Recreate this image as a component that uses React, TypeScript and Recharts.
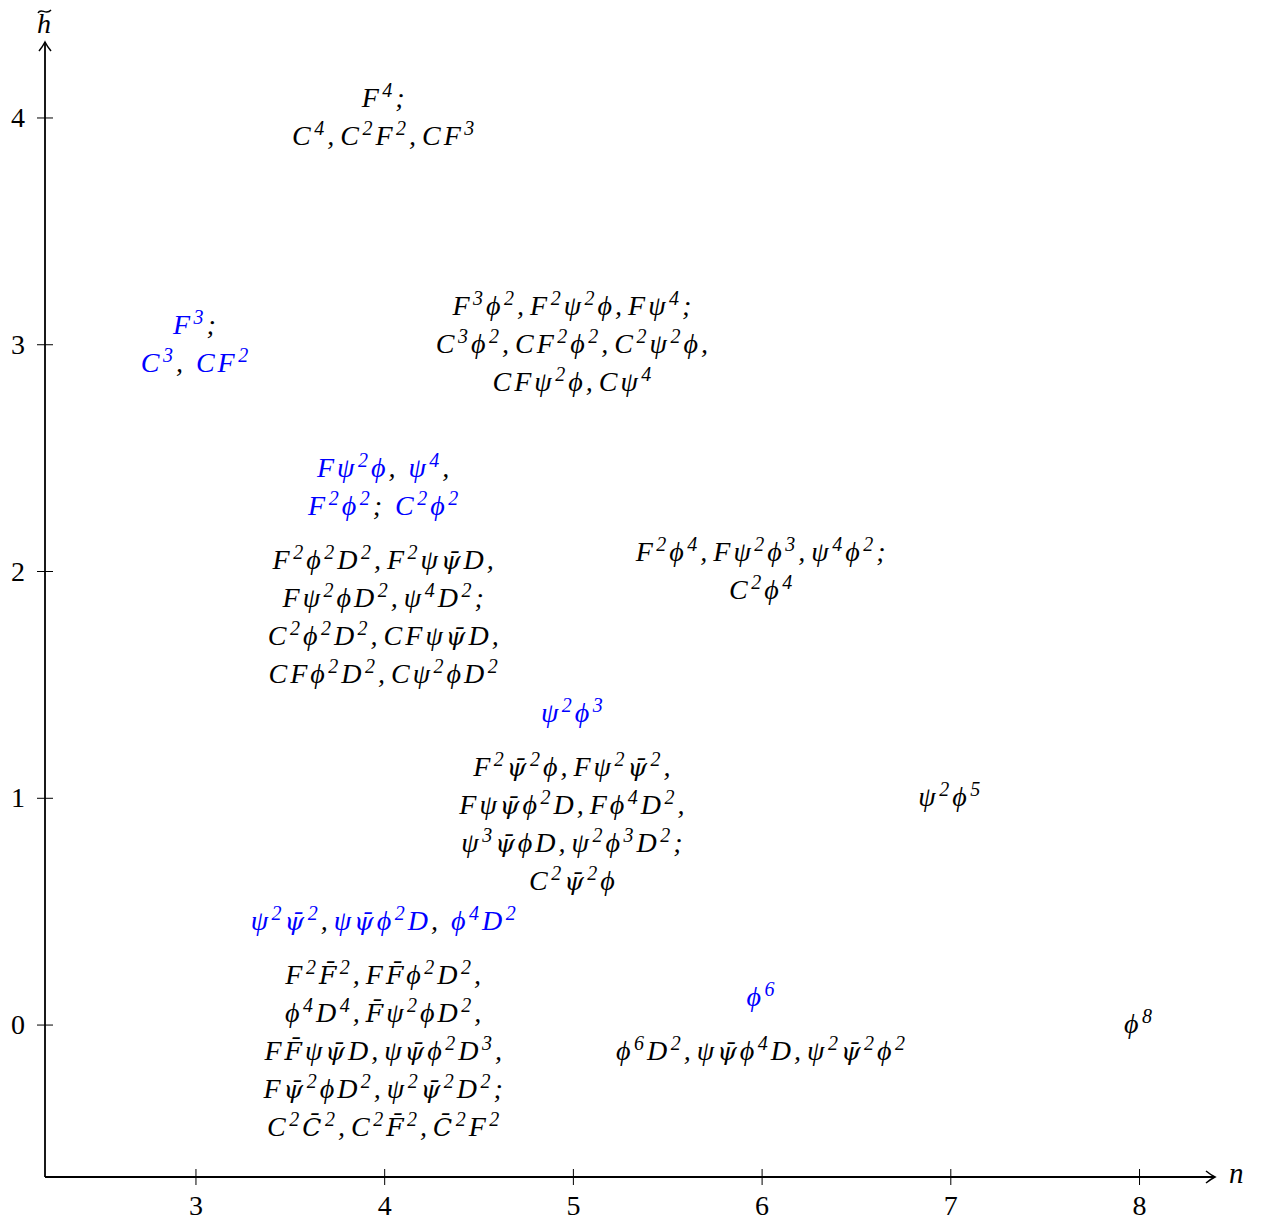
import { ScatterChart, Scatter, XAxis, YAxis, ReferenceDot } from "recharts";

// operator classes at (n, h~); "^x" = superscript, "~" = bar over previous glyph
const nValues = [4, 3, 5, 4, 6, 5, 7, 4, 6, 8];
const hValues = [4, 3, 3, 2, 2, 1, 1, 0, 0, 0];
const blueOperators: string[][] = [
  [],
  ["F^3;", "C^3, CF^2"],
  [],
  ["Fψ^2ϕ, ψ^4,", "F^2ϕ^2; C^2ϕ^2"],
  [],
  ["ψ^2ϕ^3"],
  [],
  ["ψ^2ψ~^2,ψψ~ϕ^2D, ϕ^4D^2"],
  ["ϕ^6"],
  [],
];
const blackOperators: string[][] = [
  ["F^4;", "C^4,C^2F^2,CF^3"],
  [],
  ["F^3ϕ^2,F^2ψ^2ϕ,Fψ^4;", "C^3ϕ^2,CF^2ϕ^2,C^2ψ^2ϕ,", "CFψ^2ϕ,Cψ^4"],
  ["F^2ϕ^2D^2,F^2ψψ~D,", "Fψ^2ϕD^2,ψ^4D^2;", "C^2ϕ^2D^2,CFψψ~D,", "CFϕ^2D^2,Cψ^2ϕD^2"],
  ["F^2ϕ^4,Fψ^2ϕ^3,ψ^4ϕ^2;", "C^2ϕ^4"],
  ["F^2ψ~^2ϕ,Fψ^2ψ~^2,", "Fψψ~ϕ^2D,Fϕ^4D^2,", "ψ^3ψ~ϕD,ψ^2ϕ^3D^2;", "C^2ψ~^2ϕ"],
  ["ψ^2ϕ^5"],
  ["F^2F~^2,FF~ϕ^2D^2,", "ϕ^4D^4,F~ψ^2ϕD^2,", "FF~ψψ~D,ψψ~ϕ^2D^3,", "Fψ~^2ϕD^2,ψ^2ψ~^2D^2;", "C^2C~^2,C^2F~^2,C~^2F^2"],
  ["ϕ^6D^2,ψψ~ϕ^4D,ψ^2ψ~^2ϕ^2"],
  ["ϕ^8"],
];
const nTicks = [3, 4, 5, 6, 7, 8];
const hTicks = [0, 1, 2, 3, 4];
const nDomain = [2.2, 8.4];
const hDomain = [-0.67, 4.335];

const data = nValues.map((n, i) => ({
  n,
  h: hValues[i],
  blue: blueOperators[i],
  black: blackOperators[i],
}));

const FONT = "'Liberation Serif', 'DejaVu Serif', serif";
const BAR_FONT = "'DejaVu Serif', serif";
const BLUE = "#0000ff";
const SIZE = 28;
const SUP_SIZE = 20;
const SUP_SHIFT = 10;
const LINE = 38;
const GROUP_GAP = 16;

type Tok = { t: string; sup?: boolean; punct?: boolean; space?: boolean; bar?: boolean };

function tokenize(s: string): Tok[] {
  const out: Tok[] = [];
  for (let i = 0; i < s.length; i++) {
    const c = s[i];
    if (c === "^") {
      out.push({ t: s[i + 1], sup: true });
      i++;
    } else if (c === "~") {
      if (out.length) {
        out[out.length - 1].bar = true;
        out[out.length - 1].t += "\u0304";
      }
    } else if (c === " ") {
      out.push({ t: "", space: true });
    } else {
      out.push({ t: c, punct: c === "," || c === ";" });
    }
  }
  return out;
}

function MathLine({ text, color, x, y }: { text: string; color: string; x: number; y: number }) {
  const toks = tokenize(text);
  let level = 0;
  let pending = 0;
  const spans: any[] = [];
  toks.forEach((tk, i) => {
    if (tk.space) {
      pending += 7;
      return;
    }
    let dy = 0;
    if (tk.sup && level === 0) {
      dy = -SUP_SHIFT;
      level = 1;
    } else if (!tk.sup && level === 1) {
      dy = SUP_SHIFT;
      level = 0;
    }
    const dx = pending + (tk.sup && dy !== 0 ? 0.5 : 0);
    pending = tk.punct ? 3 : 0;
    spans.push(
      <tspan
        key={i}
        dx={dx || undefined}
        dy={dy || undefined}
        fontSize={tk.sup ? SUP_SIZE : tk.bar ? SIZE - 3 : SIZE}
        fontFamily={tk.bar ? BAR_FONT : undefined}
        fill={tk.punct ? "#000" : color}
      >
        {tk.t}
      </tspan>
    );
  });
  return (
    <text
      x={x}
      y={y}
      textAnchor="middle"
      fontFamily={FONT}
      fontStyle="italic"
      fontSize={SIZE}
      letterSpacing={3}
    >
      {spans}
    </text>
  );
}

function OperatorGroup(props: any) {
  const { cx, cy } = props;
  const p = props.payload ?? props;
  const items: { text: string; color: string; y: number }[] = [];
  let yy = 0;
  (p.blue as string[]).forEach((t, i) => {
    if (i > 0) yy += LINE;
    items.push({ text: t, color: BLUE, y: yy });
  });
  (p.black as string[]).forEach((t, i) => {
    if (items.length > 0) yy += i === 0 && p.blue.length ? LINE + GROUP_GAP : LINE;
    items.push({ text: t, color: "#000", y: yy });
  });
  const top = cy - yy / 2;
  return (
    <g>
      {items.map((it, i) => (
        <MathLine key={i} text={it.text} color={it.color} x={cx} y={top + it.y + 8} />
      ))}
    </g>
  );
}

function XTick(props: any) {
  const { x, y, payload } = props;
  return (
    <g>
      <line x1={x} x2={x} y1={y - 8} y2={y + 8} stroke="#000" strokeWidth={1} />
      <text x={x} y={y + 38} textAnchor="middle" fontFamily={FONT} fontSize={28} fill="#000">
        {payload.value}
      </text>
    </g>
  );
}

function YTick(props: any) {
  const { x, y, payload } = props;
  return (
    <g>
      <line x1={x - 8} x2={x + 8} y1={y} y2={y} stroke="#000" strokeWidth={1} />
      <text x={x - 20} y={y + 9} textAnchor="end" fontFamily={FONT} fontSize={28} fill="#000">
        {payload.value}
      </text>
    </g>
  );
}

function RightArrow(props: any) {
  const { cx, cy } = props;
  return (
    <g>
      <path
        d={`M${cx - 9} ${cy - 6} Q${cx - 4} ${cy - 2} ${cx} ${cy} Q${cx - 4} ${cy + 2} ${cx - 9} ${cy + 6}`}
        stroke="#000"
        strokeWidth={1.5}
        fill="none"
      />
      <text x={cx + 14} y={cy + 6} fontFamily={FONT} fontStyle="italic" fontSize={29} fill="#000">
        n
      </text>
    </g>
  );
}

function UpArrow(props: any) {
  const { cx, cy } = props;
  return (
    <g>
      <path
        d={`M${cx - 6} ${cy + 9} Q${cx - 2} ${cy + 4} ${cx} ${cy} Q${cx + 2} ${cy + 4} ${cx + 6} ${cy + 9}`}
        stroke="#000"
        strokeWidth={1.5}
        fill="none"
      />
      <text x={cx - 1} y={cy - 9} textAnchor="middle" fontFamily={FONT} fontStyle="italic" fontSize={28} fill="#000">
        h
      </text>
      <path
        d={`M${cx - 7} ${cy - 29} C${cx - 4} ${cy - 35} ${cx + 1} ${cy - 26} ${cx + 6} ${cy - 32}`}
        stroke="#000"
        strokeWidth={1.4}
        fill="none"
      />
    </g>
  );
}

export default function App() {
  return (
    <div style={{ width: 1248, height: 1215, background: "#fff" }}>
      <ScatterChart width={1248} height={1215} margin={{ top: 34, right: 41, bottom: 0, left: 0 }}>
        <XAxis
          type="number"
          dataKey="n"
          domain={nDomain}
          ticks={nTicks}
          allowDataOverflow
          interval={0}
          height={46}
          tickSize={0}
          tickMargin={0}
          tick={<XTick />}
          axisLine={{ stroke: "#000", strokeWidth: 1.8 }}
          tickLine={false}
        />
        <YAxis
          type="number"
          dataKey="h"
          domain={hDomain}
          ticks={hTicks}
          allowDataOverflow
          interval={0}
          width={37}
          tickSize={0}
          tickMargin={0}
          tick={<YTick />}
          axisLine={{ stroke: "#000", strokeWidth: 1.8 }}
          tickLine={false}
        />
        <Scatter data={data} shape={<OperatorGroup />} isAnimationActive={false} />
        <ReferenceDot x={nDomain[1]} y={hDomain[0]} r={0} shape={<RightArrow />} ifOverflow="visible" />
        <ReferenceDot x={nDomain[0]} y={hDomain[1]} r={0} shape={<UpArrow />} ifOverflow="visible" />
      </ScatterChart>
    </div>
  );
}
